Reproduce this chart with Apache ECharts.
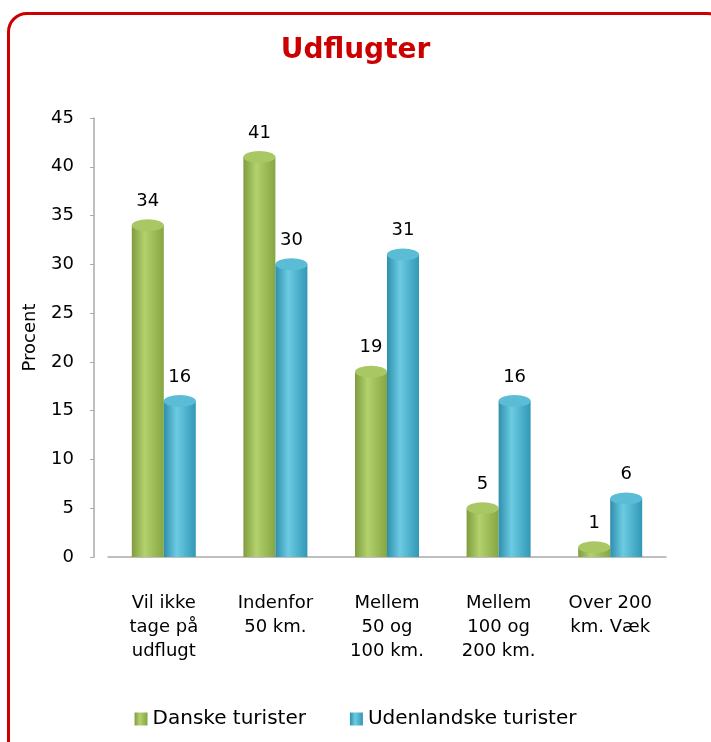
<!DOCTYPE html>
<html>
<head>
  <meta charset="utf-8">
  <title>Udflugter</title>
  <script src="https://cdn.jsdelivr.net/npm/echarts@6/dist/echarts.min.js"></script>
  <style>
    body { margin: 0; background: #fff; overflow: hidden; }
    #frame { position: absolute; left: 7px; top: 12px; width: 720px; height: 760px;
             border: 3px solid #cc0000; border-radius: 20px; box-sizing: border-box; }
    #main { position: absolute; left: 0; top: 0; width: 711px; height: 742px; }
  </style>
</head>
<body>
  <div id="frame"></div>
  <div id="main"></div>
  <script type="text/javascript">
    var categories = ['Vil ikke\ntage på\nudflugt', 'Indenfor\n50 km.', 'Mellem\n50 og\n100 km.', 'Mellem\n100 og\n200 km.', 'Over 200\nkm. Væk'];
    var danske = [34, 41, 19, 5, 1];
    var udenlandske = [16, 30, 31, 16, 6];
    var seriesNames = ['Danske turister', 'Udenlandske turister'];

    var font = 'DejaVu Sans';

    function cyl(c1, c2, c3) {
      return new echarts.graphic.LinearGradient(0, 0, 1, 0, [
        { offset: 0, color: c1 },
        { offset: 0.4, color: c2 },
        { offset: 1, color: c3 }
      ]);
    }
    var greenBody = cyl('#7f9d3f', '#b3d16c', '#86a644');
    var blueBody = cyl('#2f8fab', '#6ccbe3', '#3198b6');

    var myChart = echarts.init(document.getElementById('main'));

    var option = {
      animation: false,
      title: {
        text: 'Udflugter',
        left: 'center',
        top: 32,
        textStyle: { color: '#cc0000', fontSize: 28, fontWeight: 'bold', fontFamily: font }
      },
      legend: {
        data: seriesNames,
        bottom: 8,
        left: 'center',
        itemWidth: 13,
        itemHeight: 13,
        itemGap: 44,
        icon: 'rect',
        textStyle: { fontSize: 20, fontFamily: font, color: '#000' }
      },
      grid: { left: 108, right: 45, top: 118, bottom: 185 },
      xAxis: {
        type: 'category',
        data: categories,
        axisLine: { lineStyle: { color: '#aaa', width: 1.5 } },
        axisTick: { show: false },
        axisLabel: { interval: 0, hideOverlap: false, fontSize: 18, fontFamily: font, color: '#000', lineHeight: 24, margin: 34 }
      },
      yAxis: {
        type: 'value',
        min: 0, max: 45, interval: 5,
        offset: 14,
        name: 'Procent',
        nameLocation: 'middle',
        nameGap: 55,
        nameTextStyle: { fontSize: 18, fontFamily: font, color: '#000' },
        axisLine: { show: true, lineStyle: { color: '#aaa', width: 1.5 } },
        axisTick: { show: true, length: 4, lineStyle: { color: '#aaa' } },
        splitLine: { show: false },
        axisLabel: { fontSize: 18, fontFamily: font, color: '#000', margin: 20 }
      },
      series: [
        {
          name: seriesNames[0], type: 'bar', data: danske,
          barWidth: 32, barGap: '0%',
          itemStyle: { color: greenBody },
          label: { show: true, position: 'top', distance: 15, fontSize: 18, fontFamily: font, color: '#000' }
        },
        {
          name: seriesNames[1], type: 'bar', data: udenlandske,
          barWidth: 32, barGap: '0%',
          itemStyle: { color: blueBody },
          label: { show: true, position: 'top', distance: 15, fontSize: 18, fontFamily: font, color: '#000' }
        },
        {
          name: seriesNames[0], type: 'pictorialBar', data: danske,
          symbol: 'circle', symbolSize: [32, 12], symbolPosition: 'end', symbolOffset: [0, '-50%'],
          barWidth: 32, barGap: '0%', z: 3,
          itemStyle: { color: '#a9c763' }
        },
        {
          name: seriesNames[1], type: 'pictorialBar', data: udenlandske,
          symbol: 'circle', symbolSize: [32, 12], symbolPosition: 'end', symbolOffset: [0, '-50%'],
          barWidth: 32, barGap: '0%', z: 3,
          itemStyle: { color: '#5bbcd6' }
        }
      ]
    };

    myChart.setOption(option);
  </script>
</body>
</html>
